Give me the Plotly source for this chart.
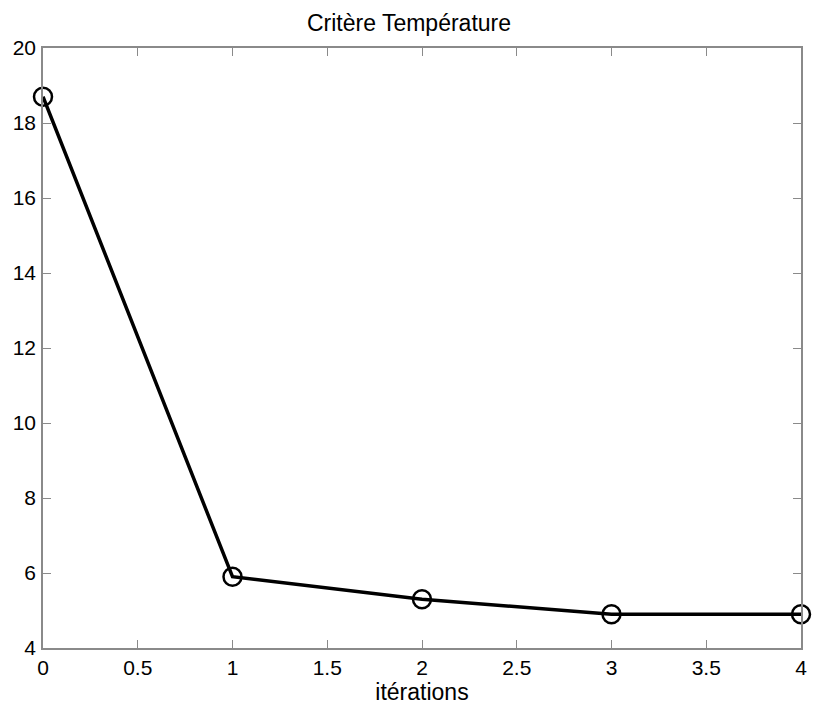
import plotly.graph_objects as go

# Convergence of the temperature criterion over the iterations
iterations = [0, 1, 2, 3, 4]
critere = [18.7, 5.9, 5.3, 4.9, 4.9]

x_ticks = [0, 0.5, 1, 1.5, 2, 2.5, 3, 3.5, 4]
x_tick_text = ["0", "0.5", "1", "1.5", "2", "2.5", "3", "3.5", "4"]
y_ticks = [4, 6, 8, 10, 12, 14, 16, 18, 20]

FONT = "Liberation Sans, Arial, sans-serif"

fig = go.Figure()
fig.add_trace(go.Scatter(
    x=iterations,
    y=critere,
    mode="lines+markers",
    line=dict(color="black", width=3.5),
    marker=dict(symbol="circle-open", size=18, color="black",
                line=dict(color="black", width=2.5)),
    showlegend=False,
    cliponaxis=False,
))

axis_style = dict(
    showgrid=False,
    zeroline=False,
    showline=True,
    linecolor="#8a8a8a",
    linewidth=1.5,
    mirror="ticks",
    ticks="inside",
    ticklen=8,
    tickwidth=1.2,
    tickcolor="#8a8a8a",
    tickfont=dict(family=FONT, size=21, color="black"),
)

fig.update_xaxes(
    range=[0, 4],
    tickvals=x_ticks,
    ticktext=x_tick_text,
    title=dict(text="itérations", standoff=0,
               font=dict(family=FONT, size=23, color="black")),
    **axis_style,
)
fig.update_yaxes(
    range=[4, 20],
    tickvals=y_ticks,
    ticklabelstandoff=1,
    **axis_style,
)

fig.update_layout(
    width=818,
    height=707,
    margin=dict(l=43, r=11, t=48, b=59),
    paper_bgcolor="white",
    plot_bgcolor="white",
    title=dict(text="Critère Température", x=0.5, xanchor="center",
               y=1 - 23 / 707, yanchor="middle",
               font=dict(family=FONT, size=23, color="black")),
)

fig.write_html("out.html")
